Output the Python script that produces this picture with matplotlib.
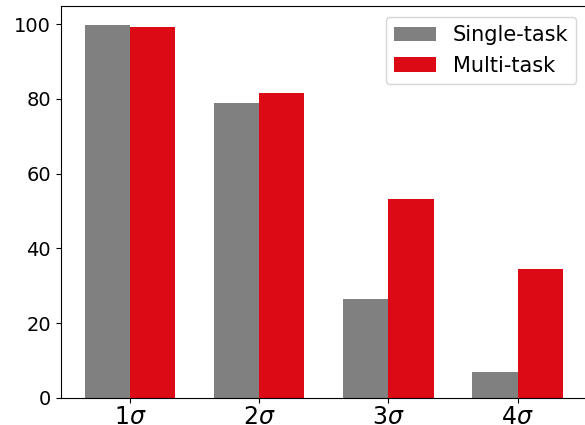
import numpy as np
import matplotlib
matplotlib.use("Agg")
import matplotlib.pyplot as plt

# data
labels = [r'$1\sigma$', r'$2\sigma$', r'$3\sigma$', r'$4\sigma$']
single = [99.8, 79.0, 26.5, 6.8]
multi = [99.2, 81.7, 53.3, 34.6]

x = np.arange(len(labels))
w = 0.35

fig, ax = plt.subplots(figsize=(5.85, 4.25), dpi=100)
ax.bar(x - w/2, single, w, color='#808080', label='Single-task')
ax.bar(x + w/2, multi, w, color='#DC0A14', label='Multi-task')

ax.set_xticks(x)
ax.set_xticklabels(labels, fontsize=17)
ax.tick_params(axis='x', pad=2)
ax.tick_params(axis='y', labelsize=14)
ax.legend(fontsize=15, loc='upper right')

# reference is cropped: right spine falls just past the image edge
plt.subplots_adjust(left=0.104, right=1.003, top=0.985, bottom=0.064)
plt.savefig("out.png")
